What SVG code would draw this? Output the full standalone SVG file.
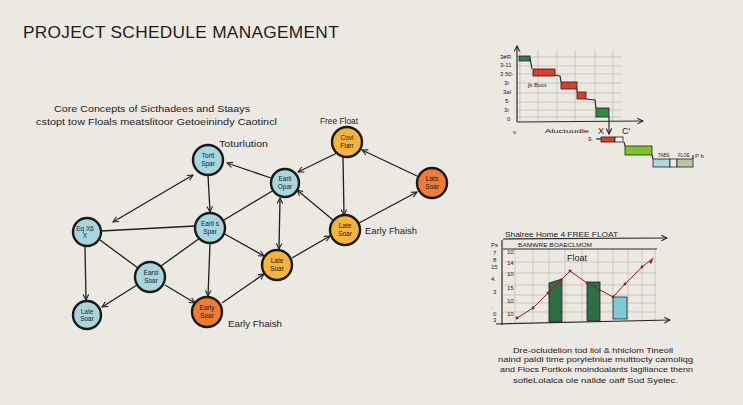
<svg xmlns="http://www.w3.org/2000/svg" width="743" height="405" viewBox="0 0 743 405">
<defs>
<style>
.bg{fill:#ece9e2}
.t{font-family:"Liberation Sans",Arial,sans-serif;fill:#1c1c1c}
.title{font-size:17px;letter-spacing:0.3px}
.sub{font-size:9.5px}
.lbl{font-size:9px}
.nt{font-size:6.5px;text-anchor:middle}
.sm{font-size:6px}
.node{stroke:#1a1a1a;stroke-width:2.4}
.blue{fill:#a7d6df}
.yel{fill:#f2b43c}
.org{fill:#ee7b36}
.e{stroke:#1f1f1f;stroke-width:1.3;fill:none}
.a{marker-end:url(#ah)}
.b{marker-start:url(#ah);marker-end:url(#ah)}
.grid{stroke:#bfbcb4;stroke-width:0.7;fill:none}
.ax{stroke:#2a2a2a;stroke-width:1.2;fill:none}
.bar{stroke:#222;stroke-width:0.8}
</style>
<marker id="ah" viewBox="0 0 10 10" refX="9" refY="5" markerWidth="7" markerHeight="7" orient="auto-start-reverse" markerUnits="userSpaceOnUse">
<path d="M1,1 L9,5 L1,9" fill="none" stroke="#1f1f1f" stroke-width="1.5"/>
</marker>
</defs>
<rect class="bg" width="743" height="405"/>

<text class="t title" x="23" y="38" textLength="316" lengthAdjust="spacingAndGlyphs">PROJECT SCHEDULE MANAGEMENT</text>
<text class="t sub" x="54" y="112" textLength="196" lengthAdjust="spacingAndGlyphs">Core Concepts of Sicthadees and Staays</text>
<text class="t sub" x="36" y="125" textLength="241" lengthAdjust="spacingAndGlyphs">cstopt tow Floals meatslitoor Getoeinindy Caotincl</text>

<text class="t lbl" x="219" y="147" textLength="49" lengthAdjust="spacingAndGlyphs">Toturlution</text>
<text class="t lbl" x="320" y="124" textLength="38" lengthAdjust="spacingAndGlyphs">Free Float</text>
<text class="t lbl" x="365" y="234" textLength="52" lengthAdjust="spacingAndGlyphs">Early Fhaish</text>
<text class="t lbl" x="228" y="327" textLength="54" lengthAdjust="spacingAndGlyphs">Early Fhaish</text>

<g id="connectors">
<line class="e b" x1="113" y1="222" x2="193" y2="175"/>
<line class="e a" x1="208" y1="175" x2="210" y2="212"/>
<line class="e a" x1="271" y1="178" x2="227" y2="163"/>
<line class="e" x1="101" y1="231" x2="195" y2="226"/>
<line class="e" x1="224" y1="220" x2="274" y2="190"/>
<line class="e b" x1="280" y1="198" x2="279" y2="249"/>
<line class="e a" x1="223" y1="233" x2="264" y2="256"/>
<line class="e a" x1="210" y1="243" x2="208" y2="296"/>
<line class="e" x1="200" y1="238" x2="161" y2="266"/>
<line class="e" x1="100" y1="240" x2="138" y2="268"/>
<line class="e a" x1="85" y1="246" x2="86" y2="300"/>
<line class="e a" x1="137" y1="285" x2="102" y2="307"/>
<line class="e a" x1="165" y1="285" x2="195" y2="303"/>
<line class="e a" x1="222" y1="303" x2="264" y2="274"/>
<line class="e a" x1="292" y1="258" x2="330" y2="236"/>
<line class="e a" x1="333" y1="220" x2="297" y2="190"/>
<line class="e a" x1="337" y1="153" x2="298" y2="172"/>
<line class="e a" x1="343" y1="157" x2="344" y2="215"/>
<line class="e a" x1="359" y1="223" x2="417" y2="192"/>
<line class="e a" x1="417" y1="176" x2="362" y2="150"/>
</g>

<g id="n1"><circle class="node blue" cx="87" cy="232" r="14"/><text class="t nt" x="85" y="231">Eq X6</text><text class="t nt" x="85" y="238">X</text></g>
<g id="n2"><circle class="node blue" cx="87" cy="315" r="14"/><text class="t nt" x="87" y="314">Late</text><text class="t nt" x="87" y="321">Soar</text></g>
<g id="n3"><circle class="node blue" cx="150" cy="277" r="15"/><text class="t nt" x="151" y="275">Earsl</text><text class="t nt" x="151" y="283">Soar</text></g>
<g id="n4"><circle class="node blue" cx="208" cy="160" r="15"/><text class="t nt" x="208" y="158">Tortl</text><text class="t nt" x="208" y="166">Spar</text></g>
<g id="n5"><circle class="node blue" cx="210" cy="228" r="15"/><text class="t nt" x="210" y="226">Earli s</text><text class="t nt" x="210" y="234">Spar</text></g>
<g id="n6"><circle class="node blue" cx="285" cy="183" r="14"/><text class="t nt" x="285" y="181">Earli</text><text class="t nt" x="285" y="189">Opar</text></g>
<g id="n7"><circle class="node org" cx="207" cy="312" r="15"/><text class="t nt" x="207" y="310">Early</text><text class="t nt" x="207" y="318">Soar</text></g>
<g id="n8"><circle class="node yel" cx="277" cy="265" r="15"/><text class="t nt" x="277" y="263">Late</text><text class="t nt" x="277" y="271">Soar</text></g>
<g id="n9"><circle class="node yel" cx="347" cy="142" r="15"/><text class="t nt" x="347" y="140">Covl</text><text class="t nt" x="347" y="148">Fiarr</text></g>
<g id="n10"><circle class="node yel" cx="345" cy="230" r="15"/><text class="t nt" x="345" y="228">Late</text><text class="t nt" x="345" y="236">Soar</text></g>
<g id="n11"><circle class="node org" cx="432" cy="183" r="15"/><text class="t nt" x="432" y="181">Lats</text><text class="t nt" x="432" y="189">Soar</text></g>

<g id="gantt">
<path class="grid" d="M520,50V122 M538,50V122 M557,50V122 M575,50V122 M595,50V122 M613,50V122 M517,57H622 M517,66H622 M517,74H622 M517,83H622 M517,93H622 M517,102H622 M517,110H622 M517,117H622"/>
<line class="ax" x1="517" y1="122" x2="517" y2="46" marker-end="url(#ah)"/>
<line class="ax" x1="517" y1="122" x2="643" y2="121" marker-end="url(#ah)"/>
<text class="t sm" x="500" y="59">3#R</text>
<text class="t sm" x="500" y="67">3-11</text>
<text class="t sm" x="500" y="76">3 50-</text>
<text class="t sm" x="504" y="85">3r</text>
<text class="t sm" x="503" y="94">3al</text>
<text class="t sm" x="505" y="103">5</text>
<text class="t sm" x="504" y="112">3r</text>
<text class="t sm" x="507" y="121">0</text>
<path class="ax" d="M530,58 L532,69 M555,75 L560,76 L561,82 M577,89 L577,92 M586,99 L595,100 L596,108" stroke-width="1"/>
<rect class="bar" x="519" y="56" width="11" height="5" fill="#2e7a66"/>
<rect class="bar" x="533" y="69" width="22" height="7" fill="#e23a2a"/>
<rect class="bar" x="561" y="82" width="16" height="7" fill="#e23a2a"/>
<rect class="bar" x="577" y="92" width="9" height="7" fill="#e23a2a"/>
<rect class="bar" x="596" y="108" width="13" height="9" fill="#2e8a48"/>
<text class="t sm" x="528" y="87">ʃs Boot</text>
<line class="ax" x1="609" y1="117" x2="609" y2="134" marker-end="url(#ah)"/>
<text class="t sm" x="513" y="134">v</text>
<text class="t sm" x="545" y="133" textLength="44" lengthAdjust="spacingAndGlyphs">Aluctuudle</text>
<text class="t" x="598" y="134" font-size="9">X</text>
<text class="t" x="622" y="134" font-size="9">C'</text>
<text class="t sm" x="588" y="141">9.</text>
<line class="ax" x1="596" y1="139" x2="601" y2="139" stroke-width="0.8"/>
<rect class="bar" x="601" y="137" width="14" height="5" fill="#e23a2a"/>
<rect class="bar" x="615" y="137" width="8" height="5" fill="#f2f0ea"/>
<line class="ax" x1="624" y1="142" x2="625" y2="146" stroke-width="0.8"/>
<rect class="bar" x="625" y="146" width="27" height="9" fill="#82c12e"/>
<line class="ax" x1="652" y1="155" x2="653" y2="159" stroke-width="0.8"/>
<rect class="bar" x="653" y="159" width="17" height="8" fill="#a9d8e1"/>
<rect class="bar" x="670" y="159" width="7" height="8" fill="#eeece6"/>
<rect class="bar" x="677" y="159" width="16" height="8" fill="#b8c8a3"/>
<line class="ax" x1="693" y1="159" x2="693" y2="155" stroke-width="0.8"/>
<text class="t" x="658" y="157" font-size="4.5">TABS</text>
<text class="t" x="678" y="157" font-size="4.5">FLOE</text>
<text class="t sm" x="695" y="158">P b</text>
</g>

<g id="floatchart">
<path class="grid" d="M515,249V322 M533,249V322 M549,249V322 M565,249V322 M582,249V322 M598,249V322 M613,249V322 M628,249V322 M642,249V322 M655,249V322 M503,262H657 M503,273H657 M503,285H657 M503,295H657 M503,303H657 M503,312H657"/>
<text class="t" x="505" y="237" font-size="7.5" textLength="113" lengthAdjust="spacingAndGlyphs">Shalree Home 4 FREE FLOAT</text>
<line class="ax" x1="503" y1="239" x2="667" y2="238" marker-end="url(#ah)"/>
<text class="t" x="518" y="247" font-size="5.5" textLength="74" lengthAdjust="spacingAndGlyphs">BAMWRE BOAECLMOM</text>
<line class="ax" x1="503" y1="249" x2="657" y2="249" stroke-width="1"/>
<line class="ax" x1="502" y1="240" x2="502" y2="325"/>
<line class="ax" x1="496" y1="324" x2="670" y2="320" marker-end="url(#ah)"/>
<text class="t sm" x="491" y="247">Ps</text>
<text class="t sm" x="493" y="255">7</text>
<text class="t sm" x="493" y="262">8</text>
<text class="t sm" x="491" y="269">15</text>
<text class="t sm" x="491" y="281">4.</text>
<text class="t sm" x="493" y="294">3</text>
<text class="t sm" x="490" y="309">·</text>
<text class="t sm" x="493" y="316">0</text>
<text class="t sm" x="493" y="322">3</text>
<text class="t sm" x="507" y="254">10</text>
<text class="t sm" x="507" y="265">14</text>
<text class="t sm" x="507" y="276">10</text>
<text class="t sm" x="507" y="290">15</text>
<text class="t sm" x="507" y="303">10</text>
<text class="t sm" x="507" y="316">10</text>
<text class="t" x="567" y="261" font-size="9">Float</text>
<path class="bar" d="M549,283 L562,279 L562,322 L549,322 Z" fill="#2e6e45"/>
<rect class="bar" x="587" y="282" width="13" height="39" fill="#2e6e45"/>
<rect class="bar" x="613" y="297" width="14" height="22" fill="#7fcad8"/>
<polyline points="517,318 533,308 548,293 561,280 570,271 587,283 600,290 613,297 625,284 642,267 652,259" fill="none" stroke="#8e1f1f" stroke-width="1"/>
<path d="M649,262 L654,257 L651,264 Z" fill="#8e1f1f"/>
<g fill="#8e1f1f">
<circle cx="517" cy="318" r="1.4"/><circle cx="533" cy="308" r="1.4"/><circle cx="548" cy="293" r="1.4"/><circle cx="561" cy="280" r="1.4"/><circle cx="570" cy="271" r="1.4"/><circle cx="587" cy="283" r="1.4"/><circle cx="613" cy="297" r="1.4"/><circle cx="625" cy="284" r="1.4"/><circle cx="642" cy="267" r="1.4"/>
</g>
</g>

<g id="notes" font-size="7.5">
<text class="t" x="513" y="353" textLength="160" lengthAdjust="spacingAndGlyphs">Dre-ocludelion tod liol &amp; hhiclom Tineoll</text>
<text class="t" x="498" y="362" textLength="195" lengthAdjust="spacingAndGlyphs">naind paldl time poryletniue multtocty camoliqg</text>
<text class="t" x="500" y="372" textLength="193" lengthAdjust="spacingAndGlyphs">and Flocs Portkok moindoalants lagiliance thenn</text>
<text class="t" x="513" y="383" textLength="165" lengthAdjust="spacingAndGlyphs">sofleLolalca ole nallde oaff Sud Syelec.</text>
</g>
</svg>
